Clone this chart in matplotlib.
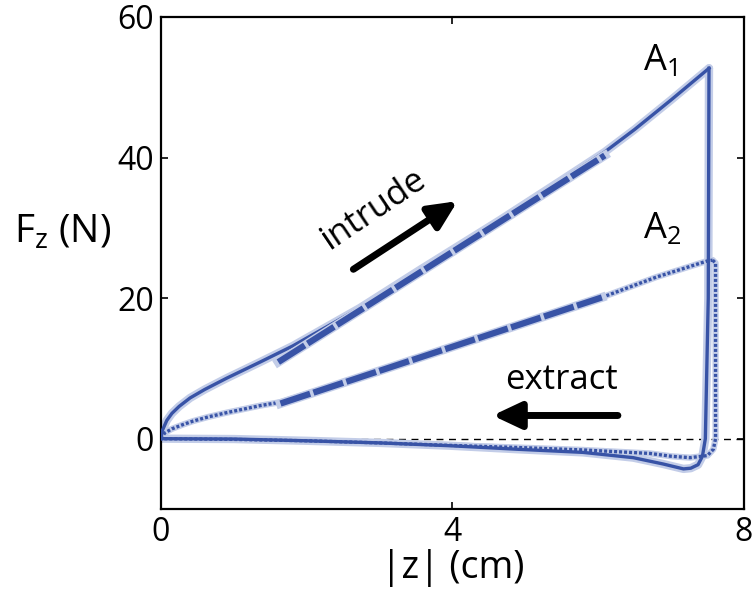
import matplotlib
matplotlib.use("Agg")
import matplotlib.pyplot as plt

plt.rcParams["font.family"] = ["Open Sans", "DejaVu Sans"]

BLUE = "#3853a6"
HALO = "#c3cde8"

# A1: intrude (solid) then extract back to 0
a1_in_x = [0, 0.02, 0.08, 0.15, 0.25, 0.4, 0.6, 0.9, 1.36, 1.81, 2.73, 3.55, 4.65, 5.5, 6.09, 6.5, 7.0, 7.52]
a1_in_y = [0, 1.2, 2.6, 3.6, 4.6, 5.8, 7.0, 8.6, 10.9, 13.2, 18.6, 24.0, 31.1, 36.8, 40.8, 44.0, 48.2, 52.7]
a1_out_x = [7.52, 7.51, 7.47, 7.43, 7.37, 7.27, 7.17, 6.89, 6.48, 5.79, 4.88, 3.96, 3.0, 2.0, 1.0, 0]
a1_out_y = [52.7, 20.0, 0.0, -2.5, -3.7, -4.2, -4.3, -3.6, -2.7, -1.95, -1.5, -1.0, -0.6, -0.3, -0.05, 0]

# A2: intrude (dotted) then extract
a2_in_x = [0, 0.05, 0.15, 0.3, 0.44, 0.65, 0.9, 1.36, 1.64, 2.5, 3.5, 4.5, 5.5, 6.05, 6.8, 7.5, 7.57]
a2_in_y = [0, 0.8, 1.4, 2.0, 2.5, 3.1, 3.7, 4.7, 5.2, 8.0, 11.4, 14.8, 18.2, 20.1, 23.0, 25.3, 25.4]
a2_out_x = [7.57, 7.61, 7.61, 7.58, 7.5, 7.26, 7.0, 6.71, 5.79, 4.88, 3.96, 3.0, 2.0, 1.0, 0]
a2_out_y = [25.4, 25.0, 0.0, -1.5, -2.4, -2.7, -2.5, -2.1, -1.6, -1.25, -0.95, -0.6, -0.3, -0.1, 0]

# linear fits (thick dashed)
fit1_x = [1.61, 6.09]
fit1_y = [10.9, 40.3]
fit2_x = [1.64, 6.05]
fit2_y = [5.0, 20.1]

fig = plt.figure(figsize=(7.54, 6.11), dpi=100)
ax = fig.add_axes([0.2135, 0.167, 0.7732, 0.8052])

ax.axhline(0, color="black", lw=1.0, ls=(0, (5, 4)), zorder=1)

# halos
for xs, ys in [(a1_in_x, a1_in_y), (a1_out_x, a1_out_y)]:
    ax.plot(xs, ys, color=HALO, lw=6, solid_capstyle="round", solid_joinstyle="round", zorder=2)
for xs, ys in [(a2_in_x, a2_in_y), (a2_out_x, a2_out_y)]:
    ax.plot(xs, ys, color=HALO, lw=4.5, solid_capstyle="round", solid_joinstyle="round", zorder=2)

ax.plot(a1_in_x, a1_in_y, color=BLUE, lw=2.4, solid_joinstyle="round", zorder=3)
ax.plot(a1_out_x, a1_out_y, color=BLUE, lw=2.4, solid_joinstyle="round", zorder=3)
ax.plot(a2_in_x, a2_in_y, color=BLUE, lw=2.4, dashes=(0.9, 0.6), zorder=3)
ax.plot(a2_out_x, a2_out_y, color=BLUE, lw=2.4, dashes=(0.9, 0.6), zorder=3)

for xs, ys in [(fit1_x, fit1_y), (fit2_x, fit2_y)]:
    ax.plot(xs, ys, color=HALO, lw=6.5, zorder=4)
    ax.plot(xs, ys, color=BLUE, lw=4.5, dashes=(5.0, 0.55), zorder=5)

# annotations
arrow = dict(arrowstyle="-|>,head_length=1.7,head_width=0.8",
             color="black", lw=5, shrinkA=0, shrinkB=0)
ax.annotate("", xy=(4.07, 33.8), xytext=(2.64, 24.1), arrowprops=arrow)
ax.text(2.92, 32.6, "intrude", fontsize=25, rotation=34, ha="center", va="center")
ax.annotate("", xy=(4.55, 3.3), xytext=(6.27, 3.3), arrowprops=arrow)
ax.text(5.5, 8.4, "extract", fontsize=25, ha="center", va="center")
ax.text(6.62, 52.4, "A$_\\mathregular{1}$", fontsize=26, ha="left", va="baseline")
ax.text(6.62, 28.5, "A$_\\mathregular{2}$", fontsize=26, ha="left", va="baseline")

ax.set_xlim(0, 8)
ax.set_ylim(-10, 60)
ax.set_xticks([0, 4, 8])
ax.set_yticks([0, 20, 40, 60])
ax.tick_params(direction="in", length=5, width=1.2, top=True, right=True,
               labelsize=23, pad=5)
for s in ax.spines.values():
    s.set_linewidth(1.6)

ax.set_xlabel("|z| (cm)", fontsize=27, labelpad=0)
fig.text(0.018, 0.62, "F$_\\mathregular{z}$ (N)", fontsize=28, ha="left", va="center")

fig.savefig("out.png", dpi=100)
